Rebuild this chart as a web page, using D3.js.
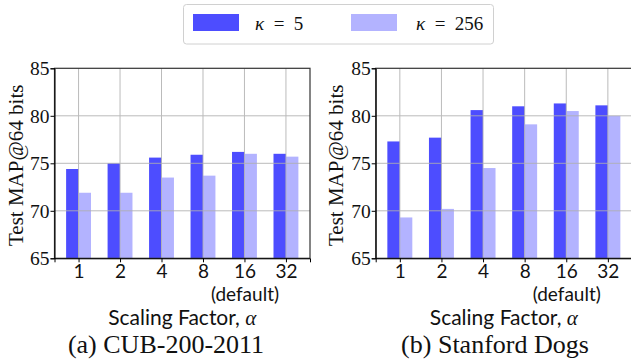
<!DOCTYPE html>
<html>
<head>
<meta charset="utf-8">
<script src="https://cdn.jsdelivr.net/npm/d3@7"></script>
<style>
  html, body { margin: 0; padding: 0; background: #fff; }
  svg { display: block; }
</style>
</head>
<body>
<div id="chart"></div>
<script>
const factors = ['1', '2', '4', '8', '16', '32'];
const seriesNames = ['κ = 5', 'κ = 256'];
const seriesColors = ['#4d4dff', '#b3b3ff'];
const yTicks = [65, 70, 75, 80, 85];

// CUB-200-2011
const cubK5 = [74.4, 75.0, 75.6, 75.9, 76.2, 76.0];
const cubK256 = [71.9, 71.9, 73.5, 73.7, 76.0, 75.7];
// Stanford Dogs
const dogsK5 = [77.3, 77.7, 80.6, 81.0, 81.3, 81.1];
const dogsK256 = [69.3, 70.2, 74.5, 79.1, 80.5, 80.0];

const W = 631, H = 360;
const svg = d3.select('#chart').append('svg')
  .attr('width', W).attr('height', H);

const serif = '"Liberation Serif", "Times New Roman", serif';
const sans = 'Lato, "Open Sans", sans-serif';

function panel({ left, right, top, bottom, k5, k256, caption, labelX }) {
  const idx = d3.range(factors.length);
  const x = d3.scaleLinear().domain([-0.58, 5.58]).range([left, right]);
  const y = d3.scaleLinear().domain([65, 85]).range([bottom, top]);
  const bw = 0.3;
  const g = svg.append('g');

  // bars
  [k5, k256].forEach((vals, s) => {
    g.append('g').selectAll('rect')
      .data(vals)
      .join('rect')
      .attr('x', (d, i) => x(i + (s === 0 ? -bw : 0)))
      .attr('width', x(bw) - x(0))
      .attr('y', d => y(d))
      .attr('height', d => y(65) - y(d))
      .attr('fill', seriesColors[s]);
  });

  // grid on top of the bars
  const grid = g.append('g').attr('stroke', '#b0b0b0').attr('stroke-width', 1).attr('opacity', 0.85);
  grid.selectAll('line.h').data(yTicks.slice(1, -1)).join('line')
    .attr('class', 'h')
    .attr('x1', left).attr('x2', right)
    .attr('y1', d => y(d)).attr('y2', d => y(d));
  grid.selectAll('line.v').data(idx).join('line')
    .attr('class', 'v')
    .attr('x1', d => x(d)).attr('x2', d => x(d))
    .attr('y1', top).attr('y2', bottom);

  // frame
  g.append('rect')
    .attr('x', left).attr('y', top)
    .attr('width', right - left).attr('height', bottom - top)
    .attr('fill', 'none').attr('stroke', '#333').attr('stroke-width', 1.2);

  // y axis
  const yAxis = g.append('g')
    .attr('transform', `translate(${left},0)`)
    .call(d3.axisLeft(y).tickValues(yTicks).tickSize(4).tickPadding(1));
  yAxis.select('.domain').attr('stroke', '#000');
  yAxis.selectAll('text').attr('font-family', serif).attr('font-size', 19.5).attr('fill', '#111');

  // x axis
  const xAxis = g.append('g')
    .attr('transform', `translate(0,${bottom})`)
    .call(d3.axisBottom(x).tickValues(idx).tickSize(4).tickPadding(0).tickFormat(i => factors[i]));
  xAxis.select('.domain').attr('stroke', '#000');
  xAxis.selectAll('.tick text').attr('dy', null).attr('y', 19.5)
    .attr('font-family', sans).attr('font-size', 19).attr('fill', '#111');
  xAxis.selectAll('.tick').filter(i => factors[i] === '16')
    .append('text')
    .attr('y', 42.5).attr('fill', '#111')
    .attr('font-family', sans).attr('font-size', 19)
    .attr('text-anchor', 'middle')
    .text('(default)');

  // y label
  g.append('text')
    .attr('transform', `translate(${labelX},${(top + bottom) / 2 + 2}) rotate(-90)`)
    .attr('text-anchor', 'middle')
    .attr('font-family', serif).attr('font-size', 21).attr('fill', '#111')
    .text('Test MAP@64 bits');

  // x label
  const xl = g.append('text')
    .attr('x', (left + right) / 2).attr('y', 325)
    .attr('text-anchor', 'middle')
    .attr('font-family', sans).attr('font-size', 21).attr('fill', '#111');
  xl.append('tspan').text('Scaling Factor, ');
  xl.append('tspan').attr('font-family', serif).attr('font-style', 'italic').text('α');

  // caption
  g.append('text')
    .attr('x', caption.x).attr('y', 353)
    .attr('text-anchor', 'middle')
    .attr('font-family', serif).attr('font-size', 26).attr('fill', '#111')
    .text(caption.text);
}

panel({ left: 54.5, right: 310, top: 68.3, bottom: 258.3, k5: cubK5, k256: cubK256,
        caption: { x: 166, text: '(a) CUB-200-2011' }, labelX: 23 });
panel({ left: 375.7, right: 632, top: 68.3, bottom: 258.3, k5: dogsK5, k256: dogsK256,
        caption: { x: 495, text: '(b) Stanford Dogs' }, labelX: 343 });

// legend
const legend = svg.append('g');
legend.append('rect')
  .attr('x', 183.5).attr('y', 4.5).attr('width', 310).attr('height', 39.5)
  .attr('rx', 3).attr('fill', '#fff').attr('stroke', '#d0d0d0');
const legendX = [[193, 255], [351, 416]];
seriesNames.forEach((name, i) => {
  legend.append('rect')
    .attr('x', legendX[i][0]).attr('y', 14).attr('width', 46).attr('height', 17)
    .attr('fill', seriesColors[i]);
  const t = legend.append('text')
    .attr('x', legendX[i][1]).attr('y', 30)
    .attr('font-family', serif).attr('font-size', 19).attr('fill', '#111');
  const [sym, rest] = name.split(' = ');
  t.append('tspan').attr('font-style', 'italic').text(sym);
  t.append('tspan').text('\u2002=\u2002' + rest);
});
</script>
</body>
</html>
